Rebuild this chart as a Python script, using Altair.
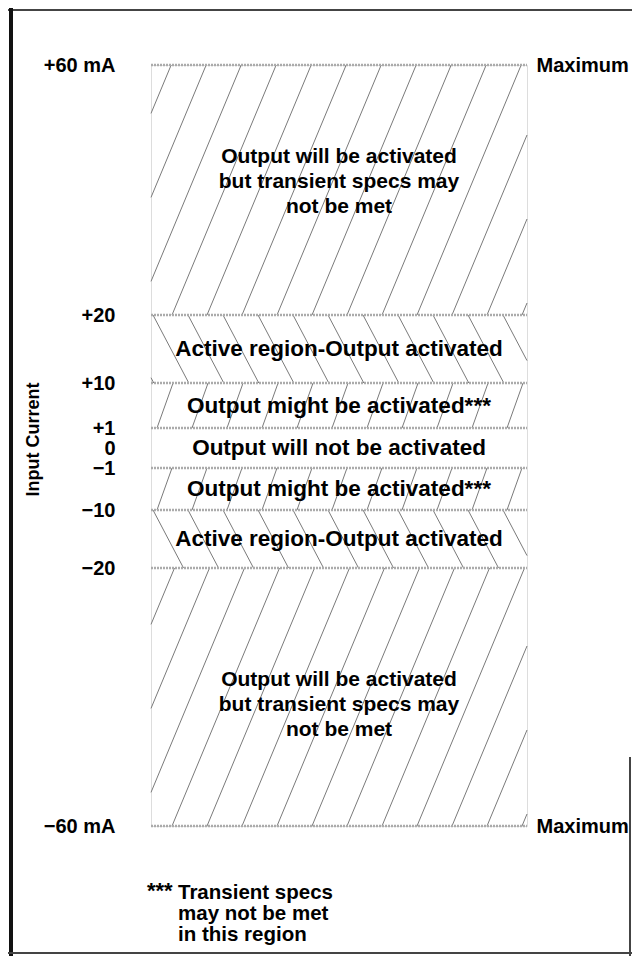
import json
import math
import altair as alt
import numpy as np
import pandas as pd

# ---- data ----
bounds = [60, 20, 10, 1, -1, -10, -20, -60]          # band edges, mA
bound_px = [0, 250, 318, 363, 403, 445, 503, 761]    # where each edge sits down the box

band_hi = [60, 20, 10, 1, -1, -10, -20]
band_lo = [20, 10, 1, -1, -10, -20, -60]
band_text = [
    "Output will be activated\nbut transient specs may\nnot be met",
    "Active region-Output activated",
    "Output might be activated***",
    "Output will not be activated",
    "Output might be activated***",
    "Active region-Output activated",
    "Output will be activated\nbut transient specs may\nnot be met",
]
band_hatch = ["/", "\\", "/", "", "/", "\\", "/"]

tick_values = [60, 20, 10, 1, 0, -1, -10, -20, -60]
tick_labels = ["+60 mA", "+20", "+10", "+1", "0", "\u22121", "\u221210", "\u221220", "\u221260 mA"]
right_values = [60, -60]
right_label = "Maximum"
axis_title = "Input Current"
footnote_star = "***"
footnote_lines = ["Transient specs", "may not be met", "in this region"]

# ---- layout / style ----
W, H = 376, 761
FONT = "Liberation Sans"
SP = 35.0
hatch_style = {"/": (2.4, 21.0), "\\": (1.9, 2.0)}
might_style = (2.8, 6.0)

asc_b = bounds[::-1]
asc_p = bound_px[::-1]


def px(v):
    return float(np.interp(v, asc_b, asc_p))


# hatch lines (texture) computed per band
hrows = []
for i, (hi, lo, kind) in enumerate(zip(band_hi, band_lo, band_hatch)):
    if not kind:
        continue
    slope, phase = hatch_style[kind]
    if kind == "/" and (hi - lo) < 15:
        slope, phase = might_style
    t, b = px(hi), px(lo)
    h = b - t
    dx = h / slope
    k0 = math.floor((-dx - phase) / SP) - 1
    k1 = math.ceil((W - phase) / SP) + 1
    for k in range(k0, k1 + 1):
        x0 = phase + k * SP
        s0 = max(0.0, (0 - x0) / dx)
        s1 = min(1.0, (W - x0) / dx)
        if s1 <= s0:
            continue
        xa, xb = x0 + s0 * dx, x0 + s1 * dx
        if kind == "/":
            ya, yb = b - s0 * h, b - s1 * h
        else:
            ya, yb = t + s0 * h, t + s1 * h
        va = hi - (ya - t) / h * (hi - lo)
        vb = hi - (yb - t) / h * (hi - lo)
        hrows.append({"x": xa, "x2": xb, "y": va, "y2": vb})
hatch_df = pd.DataFrame(hrows)

inner_df = pd.DataFrame({"v": bounds[1:-1], "x0": 0, "x1": W})
outer_df = pd.DataFrame({"v": [bounds[0], bounds[-1]], "x0": 0, "x1": W})
text_df = pd.DataFrame({
    "t": band_text,
    "yc": [(a + b) / 2 for a, b in zip(band_hi, band_lo)],
    "xc": W / 2,
    "idx": list(range(len(band_text))),
})

yscale = alt.Scale(domain=asc_b, range=asc_p, nice=False, zero=False)
xscale = alt.Scale(domain=[0, W], nice=False, zero=False)

label_map = json.dumps({str(v): l for v, l in zip(tick_values, tick_labels)}, ensure_ascii=False)

left_axis = alt.Axis(
    values=tick_values, labelExpr=f"{label_map}[datum.value + '']",
    title=axis_title, grid=False, domain=False, ticks=False,
    labelPadding=36, labelFont=FONT, labelFontSize=20, labelFontWeight="bold",
    labelColor="black", labelOverlap=False, labelFlush=False, labelBound=False,
    titleFont=FONT, titleFontSize=18, titleFontWeight="bold", titleColor="black",
    titleX=-118, titleY=374, titleAngle=270, titleAlign="center", titleBaseline="middle",
)
right_axis = alt.Axis(
    orient="right", values=right_values, labelExpr=f"'{right_label}'",
    title=None, grid=False, domain=False, ticks=False,
    labelPadding=9, labelFont=FONT, labelFontSize=20, labelFontWeight="bold",
    labelColor="black", labelOverlap=False, labelFlush=False, labelBound=False,
)

sep_color = "#ababab"

hatch = alt.Chart(hatch_df).mark_rule(color="#7a7a7a", strokeWidth=1).encode(
    x=alt.X("x:Q", scale=xscale, axis=None),
    x2="x2:Q",
    y=alt.Y("y:Q", scale=yscale, axis=None),
    y2="y2:Q",
)

inner = alt.Chart(inner_df).mark_rule(color=sep_color, strokeWidth=2.5, strokeDash=[2, 1]).encode(
    x=alt.X("x0:Q", scale=xscale, axis=None),
    x2="x1:Q",
    y=alt.Y("v:Q", scale=yscale, axis=left_axis),
)

outer = alt.Chart(outer_df).mark_rule(color=sep_color, strokeWidth=2.5, strokeDash=[2, 1]).encode(
    x=alt.X("x0:Q", scale=xscale, axis=None),
    x2="x1:Q",
    y=alt.Y("v:Q", scale=yscale, axis=right_axis),
)


def band_texts(cond, size, dy):
    return alt.Chart(text_df).transform_filter(cond).mark_text(
        font=FONT, fontSize=size, fontWeight="bold", color="black",
        lineBreak="\n", lineHeight=25, baseline="middle", align="center", dy=dy,
    ).encode(
        x=alt.X("xc:Q", scale=xscale, axis=None),
        y=alt.Y("yc:Q", scale=yscale, axis=None),
        text="t:N",
    )


texts_top = band_texts("datum.idx == 0", 21, -33)
texts_bot = band_texts("datum.idx == 6", 21, -17)
texts_mid = band_texts("datum.idx > 0 && datum.idx < 6", 22.5, 0)

one = pd.DataFrame({"a": [0]})
foot_star = alt.Chart(one).mark_text(
    font=FONT, fontSize=22, fontWeight="bold", color="black", align="left", baseline="middle",
).encode(x=alt.value(-4), y=alt.value(826), text=alt.value(footnote_star))
foot = [
    alt.Chart(one).mark_text(
        font=FONT, fontSize=20.5, fontWeight="bold", color="black", align="left", baseline="middle",
    ).encode(x=alt.value(27), y=alt.value(828 + 21 * i), text=alt.value(line))
    for i, line in enumerate(footnote_lines)
]

frame_top = alt.Chart(one).mark_rule(color="#444", strokeWidth=2).encode(
    x=alt.value(-143), x2=alt.value(481), y=alt.value(-55))
frame_left = alt.Chart(one).mark_rule(color="#111", strokeWidth=4).encode(
    x=alt.value(-140), y=alt.value(-57), y2=alt.value(891))
frame_bottom = alt.Chart(one).mark_rule(color="#444", strokeWidth=2).encode(
    x=alt.value(-143), x2=alt.value(481), y=alt.value(888))
frame_right = alt.Chart(one).mark_rule(color="#444", strokeWidth=2).encode(
    x=alt.value(479), y=alt.value(692), y2=alt.value(891))

chart = alt.layer(
    hatch, inner, outer, texts_top, texts_bot, texts_mid, foot_star, *foot,
    frame_top, frame_left, frame_bottom, frame_right,
).resolve_scale(y="independent").properties(
    width=W, height=H,
    autosize=alt.AutoSizeParams(type="none"),
    padding={"left": 143, "top": 57, "right": 105, "bottom": 130},
).configure_view(stroke=sep_color, strokeWidth=2.5, strokeDash=[2, 1]).configure(background="white")

chart.save("out.html", embed_options={"renderer": "svg", "actions": False})
